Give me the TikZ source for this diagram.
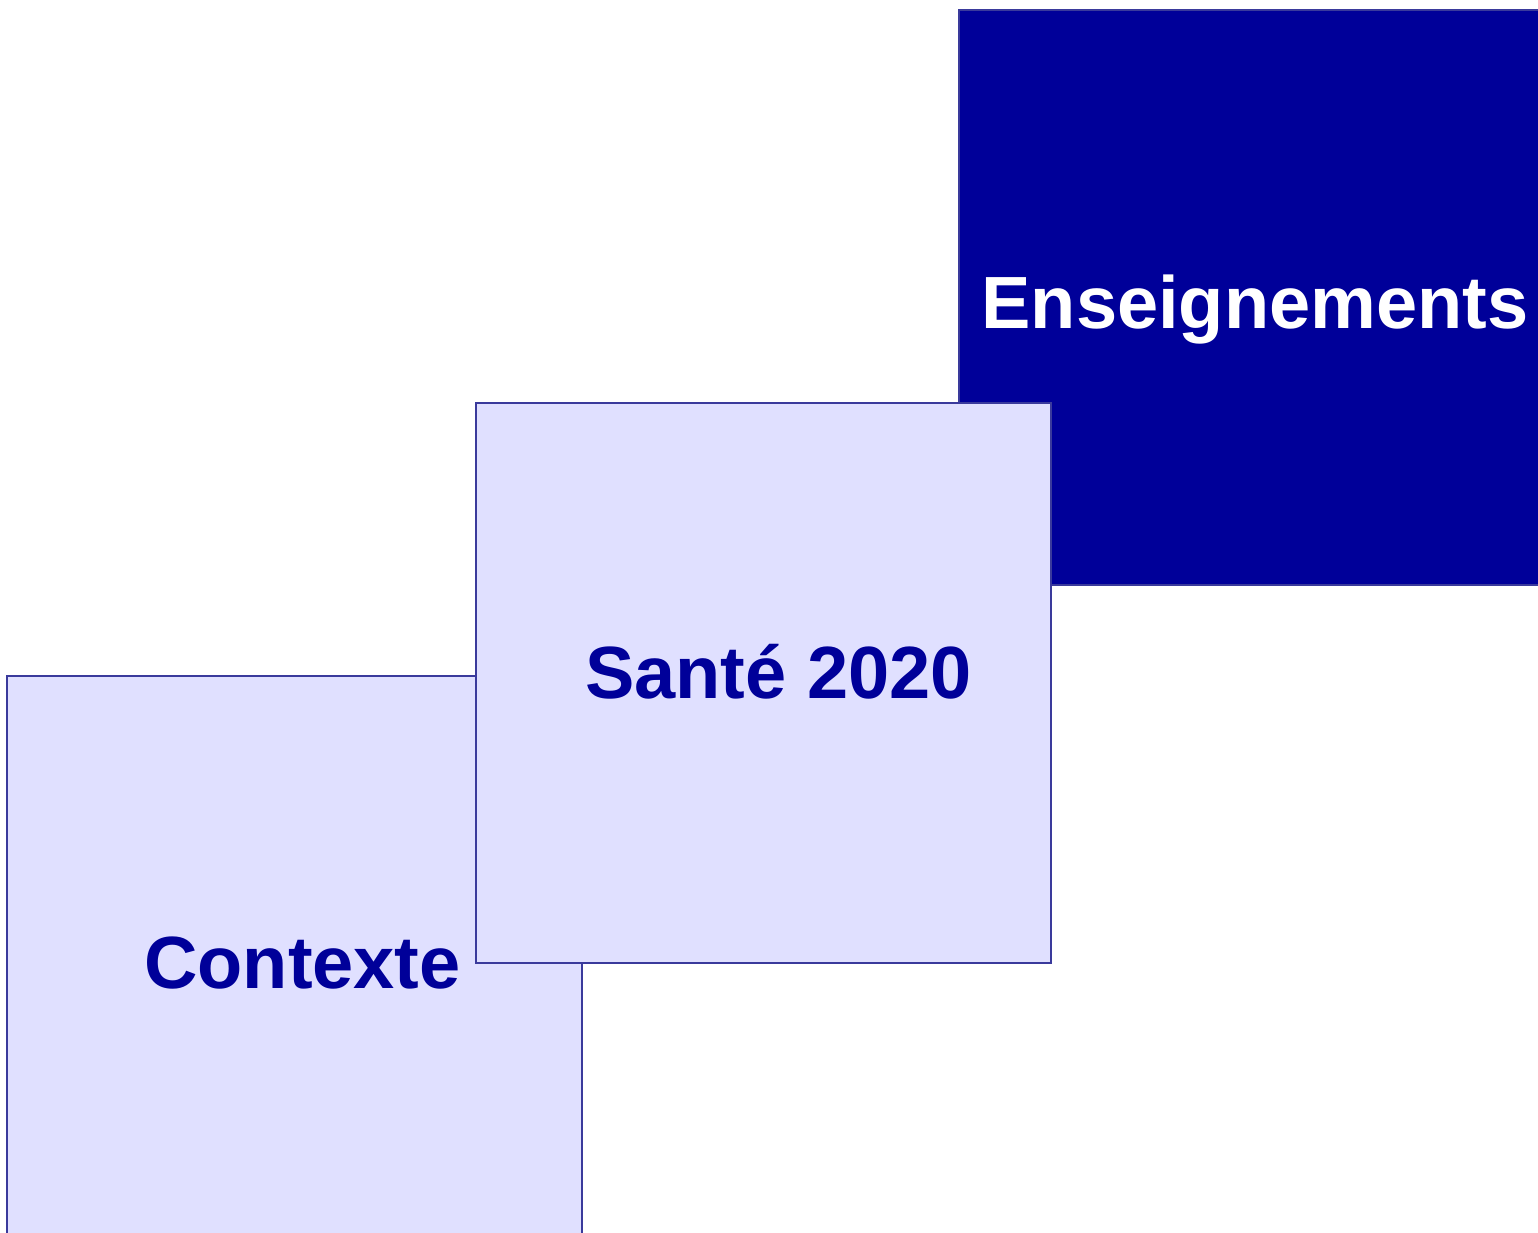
\documentclass[tikz,border=0pt]{standalone}
\usepackage{fontspec}
\setmainfont{Liberation Sans}
\definecolor{navy}{HTML}{000099}
\definecolor{lav}{HTML}{E0E0FF}
\definecolor{edge}{HTML}{3A3A9C}
\begin{document}
\begin{tikzpicture}[x=1pt,y=-1pt,
  panel/.style={draw=edge,line width=2pt,anchor=north west,inner sep=0pt,outer sep=0pt},
  light/.style={panel,fill=lav},
  dark/.style={panel,fill=navy},
  label/.style={anchor=base,inner sep=0pt,font=\fontsize{74}{88}\selectfont\bfseries}]
\useasboundingbox (0,0) rectangle (1538,1232);
\clip (0,0) rectangle (1538,1232);
\node[light,minimum width=575pt,minimum height=575pt] (ctx) at (7,676) {};
\node[dark,minimum width=590pt,minimum height=575pt] (ens) at (959,10) {};
\node[light,minimum width=575pt,minimum height=560pt] (san) at (476,403) {};
\node[label,text=navy] (ctxt) at (302.5,988) {Contexte};
\node[label,text=white] (enst) at (1255,328) {Enseignements};
\node[label,text=navy] (sant) at (778.5,698) {Santé 2020};
\end{tikzpicture}
\end{document}
